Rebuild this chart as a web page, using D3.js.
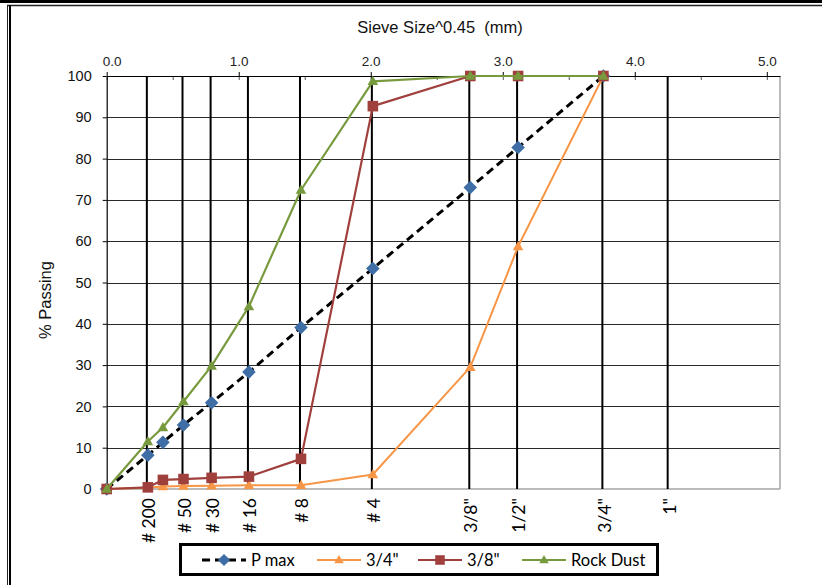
<!DOCTYPE html>
<html>
<head>
<meta charset="utf-8">
<script src="https://cdn.jsdelivr.net/npm/d3@7"></script>
<style>
  html, body { margin: 0; padding: 0; background: #fff; }
  svg { display: block; }
</style>
</head>
<body>
<svg id="chart" width="822" height="585"></svg>
<script>
// ---- data ----
const sieveMM   = [0, 0.075, 0.15, 0.3, 0.6, 1.18, 2.36, 4.75, 9.5, 12.5, 19];
const pMax      = [0, 8.2, 11.3, 15.5, 20.9, 28.3, 39.1, 53.4, 73.0, 82.7, 100];
const agg34     = [0, 0.3, 0.6, 0.7, 0.8, 0.9, 0.9, 3.5, 29.5, 58.7, 100];
const agg38     = [0, 0.4, 2.2, 2.4, 2.7, 3.0, 7.3, 92.7, 100, 100, 100];
const rockDust  = [0, 11.5, 14.9, 21.2, 29.8, 44.2, 72.4, 98.7, 100, 100, 100];

const sieveLineMM    = [0.075, 0.3, 0.6, 1.18, 2.36, 4.75, 9.5, 12.5, 19, 25];
const sieveLineLabel = ["# 200", "# 50", "# 30", "# 16", "# 8", "# 4", "3/8\"", "1/2\"", "3/4\"", "1\""];

const topMajorTicks = [0, 1, 2, 3, 4, 5];
const topMinorTicks = [0, 0.5, 1, 1.5, 2, 2.5, 3, 3.5, 4, 4.5, 5];
const yTicks        = [0, 10, 20, 30, 40, 50, 60, 70, 80, 90, 100];

const seriesNames = ["P max", "3/4\"", "3/8\"", "Rock Dust"];

// ---- layout ----
const X0 = 106.7, X1 = 780, Y0 = 489, Y1 = 76;
const XMAX = 5.1;

const svg = d3.select("#chart");

const x = d3.scalePow().exponent(0.45)
  .domain([0, Math.pow(XMAX, 1 / 0.45)]).range([X0, X1]);
const xTop = d3.scaleLinear().domain([0, XMAX]).range([X0, X1]);
const y = d3.scaleLinear().domain([0, 100]).range([Y0, Y1]);

// frame
svg.append("rect").attr("x", 0).attr("y", 0).attr("width", 822).attr("height", 3).attr("fill", "#000");
svg.append("line").attr("x1", 7).attr("x2", 822).attr("y1", 5.5).attr("y2", 5.5).attr("stroke", "#222").attr("stroke-width", 1.5);
svg.append("line").attr("x1", 7.5).attr("x2", 7.5).attr("y1", 5).attr("y2", 585).attr("stroke", "#222").attr("stroke-width", 1);
svg.append("line").attr("x1", 10).attr("x2", 10).attr("y1", 5).attr("y2", 585).attr("stroke", "#000").attr("stroke-width", 2);

// horizontal gridlines
svg.append("g").selectAll("line").data(yTicks.filter(d => d > 0 && d < 100)).join("line")
  .attr("x1", X0).attr("x2", X1)
  .attr("y1", d => Math.round(y(d)) + 0.5).attr("y2", d => Math.round(y(d)) + 0.5)
  .attr("stroke", "#2a2a2a").attr("stroke-width", 1.2);

// plot border (right & bottom, grey)
svg.append("line").attr("x1", X1).attr("x2", X1).attr("y1", Y1).attr("y2", Y0)
  .attr("stroke", "#a6a6a6").attr("stroke-width", 1.5);
svg.append("line").attr("x1", X0).attr("x2", X1).attr("y1", Y0).attr("y2", Y0)
  .attr("stroke", "#a6a6a6").attr("stroke-width", 1.5);

// sieve vertical lines
svg.append("g").selectAll("line").data(sieveLineMM).join("line")
  .attr("x1", d => x(d) - 1).attr("x2", d => x(d) - 1)
  .attr("y1", y(100)).attr("y2", y(0))
  .attr("stroke", "#000").attr("stroke-width", 2);

// sieve labels
svg.append("g").selectAll("text").data(sieveLineMM).join("text")
  .attr("transform", d => `translate(${x(d) + 1},498) rotate(-90)`)
  .attr("text-anchor", "end").attr("dy", "0.35em")
  .attr("font-family", "Lato, 'Open Sans', sans-serif").attr("font-size", 17.5)
  .attr("fill", "#000")
  .text((d, i) => sieveLineLabel[i]);

// top axis
const topMinor = svg.append("g").attr("transform", `translate(0,${Y1})`)
  .call(d3.axisTop(xTop).tickValues(topMinorTicks).tickSize(-4).tickSizeOuter(0).tickFormat(""));
topMinor.select(".domain").remove();
topMinor.selectAll("line").attr("stroke", "#555");

const topAxis = svg.append("g").attr("transform", `translate(0,${Y1})`)
  .call(d3.axisTop(xTop).tickValues(topMajorTicks).tickSize(4).tickSizeOuter(0).tickPadding(6)
    .tickFormat(d3.format(".1f")));
topAxis.select(".domain").attr("stroke", "#000").attr("stroke-width", 1.2);
topAxis.selectAll("line").attr("stroke", "#000");
topAxis.selectAll("text")
  .attr("font-family", "'Liberation Sans', Arial, sans-serif").attr("font-size", 13.5).attr("fill", "#222");
topAxis.selectAll(".tick").filter(d => d === 0).select("text").attr("dx", 5);

// left axis
const leftAxis = svg.append("g").attr("transform", `translate(${X0},0)`)
  .call(d3.axisLeft(y).tickValues(yTicks).tickSize(4).tickSizeOuter(0).tickPadding(11));
leftAxis.select(".domain").attr("stroke", "#000").attr("stroke-width", 1.2);
leftAxis.selectAll("line").attr("stroke", "#000");
leftAxis.selectAll("text")
  .attr("font-family", "'Liberation Sans', Arial, sans-serif").attr("font-size", 14.5).attr("fill", "#111");

// titles
svg.append("text").attr("x", 440).attr("y", 33).attr("text-anchor", "middle")
  .attr("font-family", "'Liberation Sans', Arial, sans-serif").attr("font-size", 16.5).attr("fill", "#111")
  .attr("xml:space", "preserve").text("Sieve Size^0.45  (mm)");
svg.append("text").attr("transform", "translate(51,300) rotate(-90)").attr("text-anchor", "middle")
  .attr("font-family", "'Liberation Sans', Arial, sans-serif").attr("font-size", 16.5).attr("fill", "#111")
  .text("% Passing");

// marker shapes
function markerPath(type, s) {
  if (type === "diamond") return `M0,${-s}L${s},0L0,${s}L${-s},0Z`;
  if (type === "square") return `M${-s},${-s}H${s}V${s}H${-s}Z`;
  // triangle
  return `M0,${-s * 1.05}L${s},${s * 0.7}L${-s},${s * 0.7}Z`;
}

const series = [
  { name: seriesNames[0], values: pMax,     color: "#000", mcolor: "#3f6ea6", dash: "8,5", width: 3,   marker: "diamond", ms: 6.8 },
  { name: seriesNames[1], values: agg34,    color: "#f79646", mcolor: "#f79646", dash: null, width: 2, marker: "triangle", ms: 5.3 },
  { name: seriesNames[2], values: agg38,    color: "#a0403d", mcolor: "#a0403d", dash: null, width: 2.2, marker: "square", ms: 5.3 },
  { name: seriesNames[3], values: rockDust, color: "#789a3e", mcolor: "#789a3e", dash: null, width: 2.2, marker: "triangle", ms: 5.3 }
];

const line = d3.line().x(d => x(d[0])).y(d => y(d[1]));

series.forEach(s => {
  const pts = sieveMM.map((m, i) => [m, s.values[i]]);
  const g = svg.append("g");
  g.append("path").datum(pts).attr("d", line)
    .attr("fill", "none").attr("stroke", s.color).attr("stroke-width", s.width)
    .attr("stroke-dasharray", s.dash).attr("stroke-linejoin", "round");
  g.selectAll("path.m").data(pts).join("path").attr("class", "m")
    .attr("transform", d => `translate(${x(d[0])},${y(d[1])})`)
    .attr("d", markerPath(s.marker, s.ms)).attr("fill", s.mcolor);
});

// legend
const lg = svg.append("g");
lg.append("rect").attr("x", 180.5).attr("y", 544.5).attr("width", 477).attr("height", 30)
  .attr("fill", "#fff").attr("stroke", "#000").attr("stroke-width", 3);
const legendX = [202, 317, 418, 522];
const legendY = 560;
series.forEach((s, i) => {
  const lx = legendX[i];
  lg.append("line").attr("x1", lx).attr("x2", lx + 44).attr("y1", legendY).attr("y2", legendY)
    .attr("stroke", s.color).attr("stroke-width", s.width).attr("stroke-dasharray", s.dash);
  lg.append("path").attr("transform", `translate(${lx + 22},${legendY})`)
    .attr("d", markerPath(s.marker, s.ms * 0.9)).attr("fill", s.mcolor);
  lg.append("text").attr("x", lx + 49).attr("y", legendY).attr("dy", "0.36em")
    .attr("font-family", "Lato, 'Open Sans', sans-serif").attr("font-size", 16.5).attr("fill", "#000")
    .text(s.name);
});
</script>
</body>
</html>
